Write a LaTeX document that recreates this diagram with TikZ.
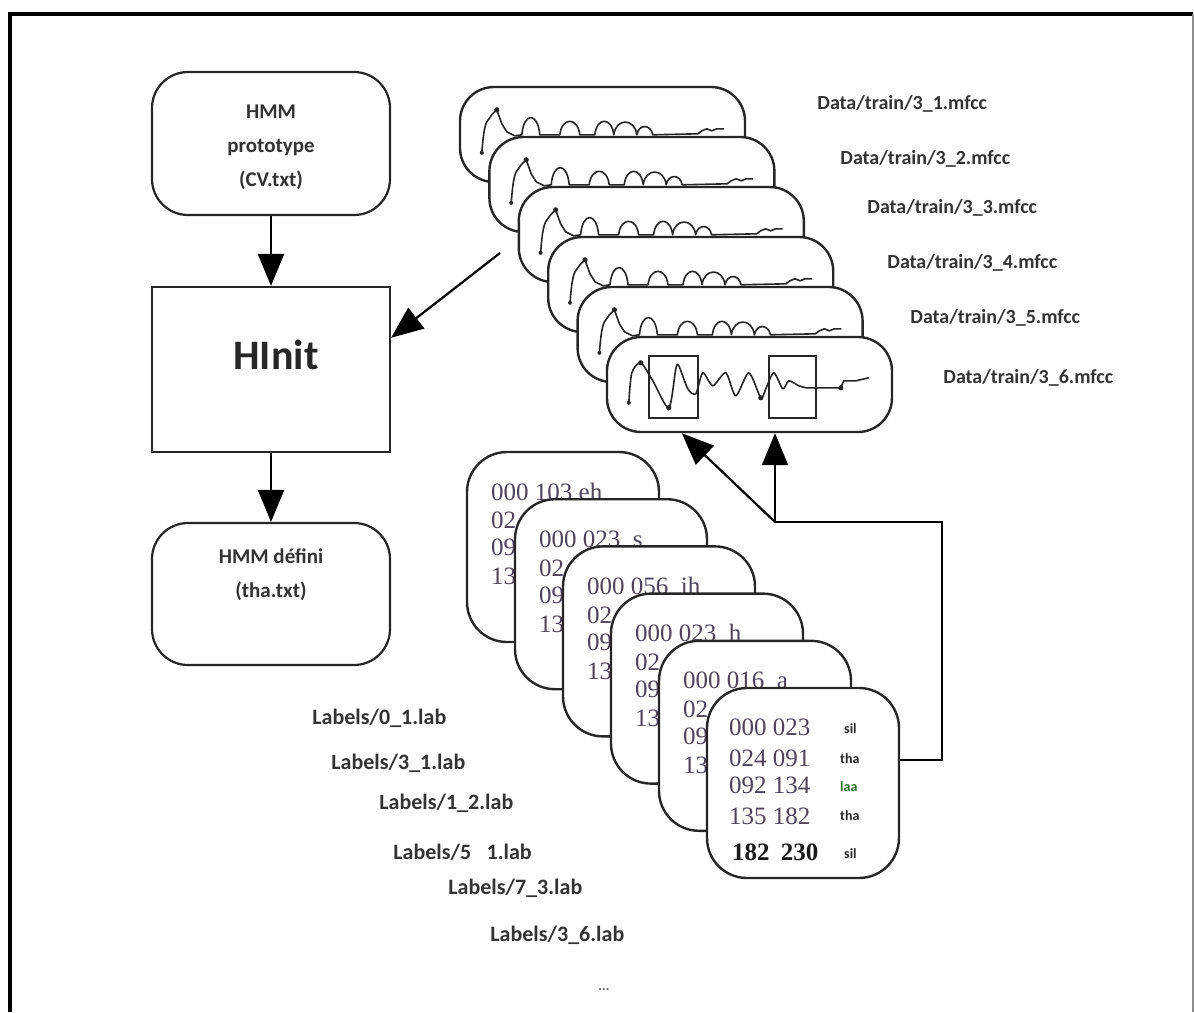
\documentclass[tikz,border=0pt]{standalone}
\usepackage{fontspec}
\setmainfont{Liberation Serif}
\newfontfamily\calfont{Carlito}
\usetikzlibrary{arrows.meta,calc}
\definecolor{numc}{RGB}{78,70,88}
\definecolor{labgreen}{RGB}{40,110,40}
\newcommand\smallwave{%
\draw[wave] (23,67) .. controls (24,55) and (25,42) .. (28,36) -- (33,29) -- (38,24) -- (43,38) -- (48,46) -- (56,50)
 -- (63,49) .. controls (65,26) and (79,26) .. (81,49)
 -- (101,49) .. controls (103,31) and (119,31) .. (121,49)
 -- (136,49) .. controls (138,31) and (153,31) .. (155,49)
 .. controls (157,32) and (176,32) .. (178,49)
 .. controls (180,38) and (192,38) .. (194,49)
 -- (239,48) -- (243,45) -- (248,43) -- (253,45) -- (258,43) -- (265,43);
\fill[black!85] (38,24) circle (1.3pt) (23,67) circle (1pt);}
\begin{document}
\begin{tikzpicture}[x=0.5pt,y=-0.5pt,
  box/.style={draw=black!85, line width=1.1pt, fill=white, inner sep=0pt},
  rbox/.style={box, rounded corners=18pt},
  mcard/.style={draw=black!85, line width=1.2pt, fill=white, rounded corners=17pt, minimum width=142.5pt, minimum height=47.5pt, inner sep=0pt},
  lcard/.style={draw=black!85, line width=1.2pt, fill=white, rounded corners=20pt, minimum width=96pt, minimum height=95pt, inner sep=0pt},
  arr/.style={line width=1.1pt, -{Triangle[length=16pt,width=13pt]}},
  conn/.style={line width=1.1pt},
  wave/.style={line width=0.8pt, draw=black!85, line join=round},
  boxtext/.style={font=\calfont\bfseries\fontsize{10.5}{17}\selectfont, text=black!80, align=center},
  dlab/.style={font=\calfont\bfseries\fontsize{10}{12}\selectfont, text=black!80, anchor=west, inner sep=0pt},
  llab/.style={font=\calfont\bfseries\fontsize{11}{13}\selectfont, text=black!80, anchor=west, inner sep=0pt},
  num/.style={font=\fontsize{12.5}{14}\selectfont, text=numc, anchor=west, inner sep=0pt},
  tinylab/.style={font=\calfont\bfseries\fontsize{7}{8}\selectfont, text=black!85, anchor=west, inner sep=0pt},
]
\useasboundingbox (0,0) rectangle (1194,1012);
% frame
\draw[line width=2pt] (10,1012) -- (10,13.5) -- (1193,13.5);
\draw[black!45, line width=0.6pt] (1193,13.5) -- (1193,1012);

% left column
\node[rbox, minimum width=119pt, minimum height=71.5pt] (proto) at (271,143.5) {};
\node[boxtext] (protoT) at (271,147) {HMM\\prototype\\(CV.txt)};
\node[box, minimum width=119pt, minimum height=82.5pt] (hinit) at (271,369.5) {};
\node[font=\calfont\bfseries\fontsize{21}{24}\selectfont, text=black!85] (hinitT) at (276,355) {HInit};
\node[rbox, minimum width=119pt, minimum height=71pt] (def) at (271,594) {};
\node[boxtext] (defT) at (271,575) {HMM défini\\(tha.txt)};
\draw[arr] (proto) -- (hinit);
\draw[arr] (hinit) -- (def);

% mfcc cards
\foreach \k/\n in {0/1,1/2,2/3,3/4,4/5} {
  \node[mcard] (m\n) at ({602.5+29.4*\k},{134.5+50*\k}) {};
  \begin{scope}[shift={(m\n.north west)}]
    \smallwave
  \end{scope}
}
\node[mcard] (m6) at (749.5,384.5) {};
\begin{scope}[shift={(m6.north west)}]
  \draw[wave] plot[smooth, tension=0.45] coordinates {(23,67) (26,37) (35,27) (47,45) (63,72) (70,33) (73,30) (82,53) (90,58) (97,37) (107,50) (120,37) (130,60) (143,37) (155,62) (160,53) (168,37) (177,53) (183,45) (193,50) (200,52)};
  \draw[wave] (200,52) -- (235,52) -- (238,45) -- (250,45) -- (263,42);
  \fill[black!85] (35,27) circle (1.3pt) (63,72) circle (1.3pt) (155,62) circle (1.3pt) (235,52) circle (1.3pt) (23,67) circle (1pt);
  \draw[line width=1pt, black!85] (43,20) rectangle (92,82);
  \draw[line width=1pt, black!85] (163,20) rectangle (210,82);
\end{scope}

% mfcc file names
\node[dlab] (d1) at (817,104) {Data/train/3\_1.mfcc};
\node[dlab] (d2) at (840,159) {Data/train/3\_2.mfcc};
\node[dlab] (d3) at (867,208) {Data/train/3\_3.mfcc};
\node[dlab] (d4) at (887,263) {Data/train/3\_4.mfcc};
\node[dlab] (d5) at (910,318) {Data/train/3\_5.mfcc};
\node[dlab] (d6) at (943,378) {Data/train/3\_6.mfcc};

% arrow from mfcc stack to HInit
\coordinate (src) at (500,253);
\draw[arr] (src) -- ($(hinit.north east)!0.31!(hinit.south east)$);

% label cards (only the visible start of rows 2-4 is printed)
\foreach \k/\n/\w in {0/1/103\ eh,1/2/023\ \ s,2/3/056\ \ ih,3/4/023\ \ h,4/5/016\ \ a} {
  \node[lcard] (l\n) at ({563+48*\k},{547+47.2*\k}) {};
  \begin{scope}[shift={(l\n.north west)}]
    \node[num] (l\n a) at (25,41) {000 \w};
    \node[num] (l\n b) at (25,70) {02};
    \node[num] (l\n c) at (25,97) {09};
    \node[num] (l\n d) at (25,126) {13};
  \end{scope}
}
\node[lcard] (l6) at (803,783) {};
\begin{scope}[shift={(l6.north west)}]
  \node[num] (r1) at (23,41) {000 023};
  \node[num] (r2) at (23,71) {024 091};
  \node[num] (r3) at (23,99) {092 134};
  \node[num] (r4) at (23,129) {135 182};
  \node[num, font=\bfseries\fontsize{12.5}{14}\selectfont, text=black!90] (r5) at (26,165) {182\hspace{0.45em}230};
  \node[tinylab] (s1) at (138,42) {sil};
  \node[tinylab] (s2) at (134,72) {tha};
  \node[tinylab, text=labgreen] (s3) at (134,100) {laa};
  \node[tinylab] (s4) at (134,129) {tha};
  \node[tinylab] (s5) at (138,167) {sil};
\end{scope}

% label file names
\node[llab] (t1) at (312,718) {Labels/0\_1.lab};
\node[llab] (t2) at (331,763) {Labels/3\_1.lab};
\node[llab] (t3) at (379,803) {Labels/1\_2.lab};
\node[llab] (t4) at (393,852) {Labels/5\hspace{0.7em}1.lab};
\node[llab] (t5) at (448,888) {Labels/7\_3.lab};
\node[llab] (t6) at (490,935) {Labels/3\_6.lab};
\node[font=\calfont\bfseries\fontsize{7}{8}\selectfont, text=black!60] (dots) at (604,990) {...};

% connectors from labels to mfcc
\coordinate (lexit) at ($(l6.north east)!0.38!(l6.south east)$);
\coordinate (rt) at (942,522);
\coordinate (jn) at (775,522);
\draw[conn] (lexit) -- (rt |- lexit) -- (rt) -- (jn);
\draw[arr] (jn) -- (jn |- m6.south);
\draw[arr] (jn) -- ($(m6.south west)+(76,0)$);
\end{tikzpicture}
\end{document}
